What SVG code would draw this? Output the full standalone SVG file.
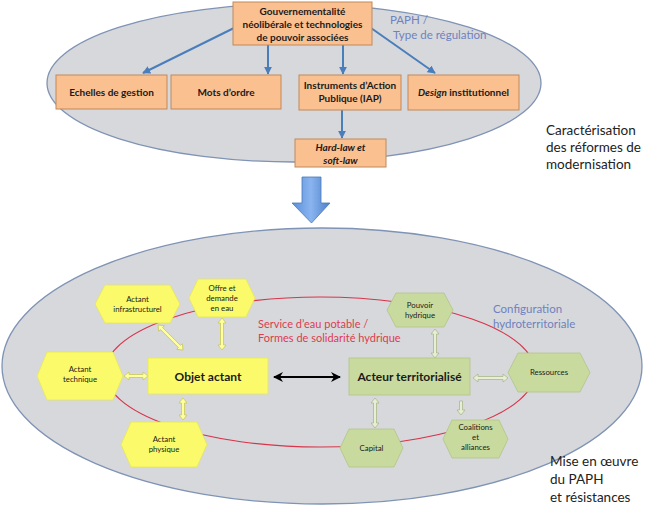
<svg xmlns="http://www.w3.org/2000/svg" width="650" height="513" viewBox="0 0 650 513">
<defs>
<style>
text{font-family:Lato,"Open Sans","Liberation Sans",sans-serif;text-anchor:middle;fill:#1a1a1a}
.ell{fill:#D7D8DC;stroke:#7F93B5;stroke-width:1.3}
.org{fill:#FAC090;stroke:#C08A5A;stroke-width:1}
.ob{font-size:10px;font-weight:bold}
.yel{fill:#FAFA6A;stroke:#E5E560;stroke-width:0.8}
.grn{fill:#C9DA9E;stroke:#B3C488;stroke-width:0.8}
.hx{font-size:7.8px}
.big{font-size:12px;font-weight:bold}
.blue{fill:#6E82BE;font-size:11.5px;text-anchor:start}
.red{fill:#DC3C50;font-size:11px;text-anchor:start}
.side{font-size:13.5px;text-anchor:start;fill:#222}
.ba{stroke:#4A7EBB;stroke-width:2;fill:none;marker-end:url(#bh)}
.ya{fill:#FFFFA0;stroke:#C9C95A;stroke-width:0.8}
.ga{fill:#E8EED6;stroke:#A9B98C;stroke-width:0.8}
</style>
<marker id="bh" viewBox="0 0 10 10" refX="9" refY="5" markerWidth="4" markerHeight="4" orient="auto">
<path d="M0,0 L10,5 L0,10 Z" fill="#4A7EBB"/>
</marker>
<marker id="kh" viewBox="0 0 10 10" refX="9" refY="5" markerWidth="5" markerHeight="5" orient="auto-start-reverse">
<path d="M0,0 L10,5 L0,10 L3,5 Z" fill="#000"/>
</marker>
<linearGradient id="bg" x1="0" x2="1" y1="0" y2="0">
<stop offset="0" stop-color="#5A8FDA"/>
<stop offset="0.5" stop-color="#8AB4F0"/>
<stop offset="1" stop-color="#4C80C8"/>
</linearGradient>
</defs>

<!-- backgrounds -->
<ellipse id="top-ellipse" class="ell" cx="294" cy="83" rx="247" ry="79"/>
<ellipse id="bottom-ellipse" class="ell" cx="322" cy="366" rx="320" ry="138"/>
<ellipse id="red-ellipse" cx="320" cy="372" rx="215" ry="75" fill="none" stroke="#D8344A" stroke-width="1.2"/>

<text class="blue" x="390" y="24">PAPH /</text>
<text class="blue" x="393" y="39">Type de régulation</text>
<text class="side" x="546" y="135">Caractérisation</text>
<text class="side" x="546" y="152">des réformes de</text>
<text class="side" x="546" y="169">modernisation</text>
<text class="red" x="258" y="328">Service d’eau potable /</text>
<text class="red" x="258" y="342">Formes de solidarité hydrique</text>
<text class="blue" x="493" y="313">Configuration</text>
<text class="blue" x="493" y="328">hydroterritoriale</text>
<text class="side" x="550" y="466">Mise en œuvre</text>
<text class="side" x="550" y="484">du PAPH</text>
<text class="side" x="550" y="502">et résistances</text>

<!-- big blue arrow -->
<path id="transition-arrow" d="M302,177 L321,177 L321,203 L330,203 L311.5,223 L292,203 L302,203 Z" fill="url(#bg)" stroke="#4A7AB8" stroke-width="0.8"/>

<!-- connectors -->
<g id="connectors">
<line class="ba" x1="234" y1="28" x2="143" y2="73"/>
<line class="ba" x1="268" y1="45" x2="268" y2="74"/>
<line class="ba" x1="343" y1="45" x2="343" y2="74"/>
<line class="ba" x1="371" y1="28" x2="435" y2="73"/>
<line class="ba" x1="342" y1="110" x2="342" y2="138"/>
<line x1="274" y1="377" x2="340" y2="377" stroke="#000" stroke-width="2" marker-start="url(#kh)" marker-end="url(#kh)"/>
<path class="ya" transform="translate(158,325) rotate(45)" d="M0,0 L5,-4 L5,-1.5 L30.4,-1.5 L30.4,-4 L35.4,0 L30.4,4 L30.4,1.5 L5,1.5 L5,4 Z"/>
<path class="ya" transform="translate(222,318) rotate(90)" d="M0,0 L5,-4 L5,-1.5 L27,-1.5 L27,-4 L32,0 L27,4 L27,1.5 L5,1.5 L5,4 Z"/>
<path class="ya" transform="translate(124,376)" d="M0,0 L5,-4 L5,-1.5 L19,-1.5 L19,-4 L24,0 L19,4 L19,1.5 L5,1.5 L5,4 Z"/>
<path class="ya" transform="translate(183,398) rotate(90)" d="M0,0 L5,-4 L5,-1.5 L17,-1.5 L17,-4 L22,0 L17,4 L17,1.5 L5,1.5 L5,4 Z"/>
<path class="ga" transform="translate(435,329) rotate(90)" d="M0,0 L5,-4 L5,-1.5 L24,-1.5 L24,-4 L29,0 L24,4 L24,1.5 L5,1.5 L5,4 Z"/>
<path class="ga" transform="translate(473,378)" d="M0,0 L5,-4 L5,-1.5 L30,-1.5 L30,-4 L35,0 L30,4 L30,1.5 L5,1.5 L5,4 Z"/>
<path class="ga" transform="translate(375,398) rotate(90)" d="M0,0 L5,-4 L5,-1.5 L25,-1.5 L25,-4 L30,0 L25,4 L25,1.5 L5,1.5 L5,4 Z"/>
<path class="ga" transform="translate(461,401) rotate(90)" d="M0,-1.5 L9,-1.5 L9,-4 L14,0 L9,4 L9,1.5 L0,1.5 Z"/>
</g>

<!-- top nodes -->
<g id="gouvernementalite">
<rect class="org" x="233" y="2" width="139" height="43"/>
<text class="ob" x="302.5" y="15">Gouvernementalité</text>
<text class="ob" x="302.5" y="28">néolibérale et technologies</text>
<text class="ob" x="302.5" y="41">de pouvoir associées</text>
</g>
<g id="echelles">
<rect class="org" x="56" y="75" width="111" height="34"/>
<text class="ob" x="111.5" y="96">Echelles de gestion</text>
</g>
<g id="mots">
<rect class="org" x="171" y="75" width="110" height="34"/>
<text class="ob" x="226" y="96">Mots d’ordre</text>
</g>
<g id="instruments">
<rect class="org" x="299" y="75" width="102" height="35"/>
<text class="ob" x="350" y="89">Instruments d’Action</text>
<text class="ob" x="350" y="102">Publique (IAP)</text>
</g>
<g id="design">
<rect class="org" x="408" y="75" width="111" height="35"/>
<text class="ob" x="463.5" y="96"><tspan font-style="italic">Design</tspan> institutionnel</text>
</g>
<g id="hardlaw">
<rect class="org" x="295" y="139" width="91" height="28"/>
<text class="ob" x="340.5" y="151" font-style="italic">Hard-law et</text>
<text class="ob" x="340.5" y="164" font-style="italic">soft-law</text>
</g>

<!-- bottom nodes -->
<g id="actant-infrastructurel">
<polygon class="yel" points="105,285 170,285 180,304 170,323 105,323 95,304"/>
<text class="hx" x="137.5" y="302">Actant</text>
<text class="hx" x="137.5" y="312">infrastructurel</text>
</g>
<g id="offre-demande">
<polygon class="yel" points="198,279 246,279 255,298 246,317 198,317 189,298"/>
<text class="hx" x="222" y="291">Offre et</text>
<text class="hx" x="222" y="301">demande</text>
<text class="hx" x="222" y="311">en eau</text>
</g>
<g id="actant-technique">
<polygon class="yel" points="47,352 113,352 123,376 113,400 47,400 37,376"/>
<text class="hx" x="80" y="372">Actant</text>
<text class="hx" x="80" y="382">technique</text>
</g>
<g id="objet-actant">
<rect class="yel" x="148" y="358" width="120" height="36"/>
<text class="big" x="208" y="381">Objet actant</text>
</g>
<g id="actant-physique">
<polygon class="yel" points="131,422 197,422 207,444.5 197,467 131,467 121,444.5"/>
<text class="hx" x="164" y="442">Actant</text>
<text class="hx" x="164" y="452">physique</text>
</g>
<g id="pouvoir-hydrique">
<polygon class="grn" points="396,293 444,293 453,310 444,327 396,327 387,310"/>
<text class="hx" x="420" y="308">Pouvoir</text>
<text class="hx" x="420" y="318">hydrique</text>
</g>
<g id="acteur-territorialise">
<rect class="grn" x="349" y="358" width="121" height="37"/>
<text class="big" x="409.5" y="381">Acteur territorialisé</text>
</g>
<g id="ressources">
<polygon class="grn" points="518,353 580,353 590,372.5 580,392 518,392 508,372.5"/>
<text class="hx" x="549" y="375">Ressources</text>
</g>
<g id="capital">
<polygon class="grn" points="349,429 394,429 403,448 394,467 349,467 340,448"/>
<text class="hx" x="371.5" y="451">Capital</text>
</g>
<g id="coalitions">
<polygon class="grn" points="452,420 499,420 508,439 499,458 452,458 443,439"/>
<text class="hx" x="475.5" y="430">Coalitions</text>
<text class="hx" x="475.5" y="440">et</text>
<text class="hx" x="475.5" y="450">alliances</text>
</g>
</svg>
